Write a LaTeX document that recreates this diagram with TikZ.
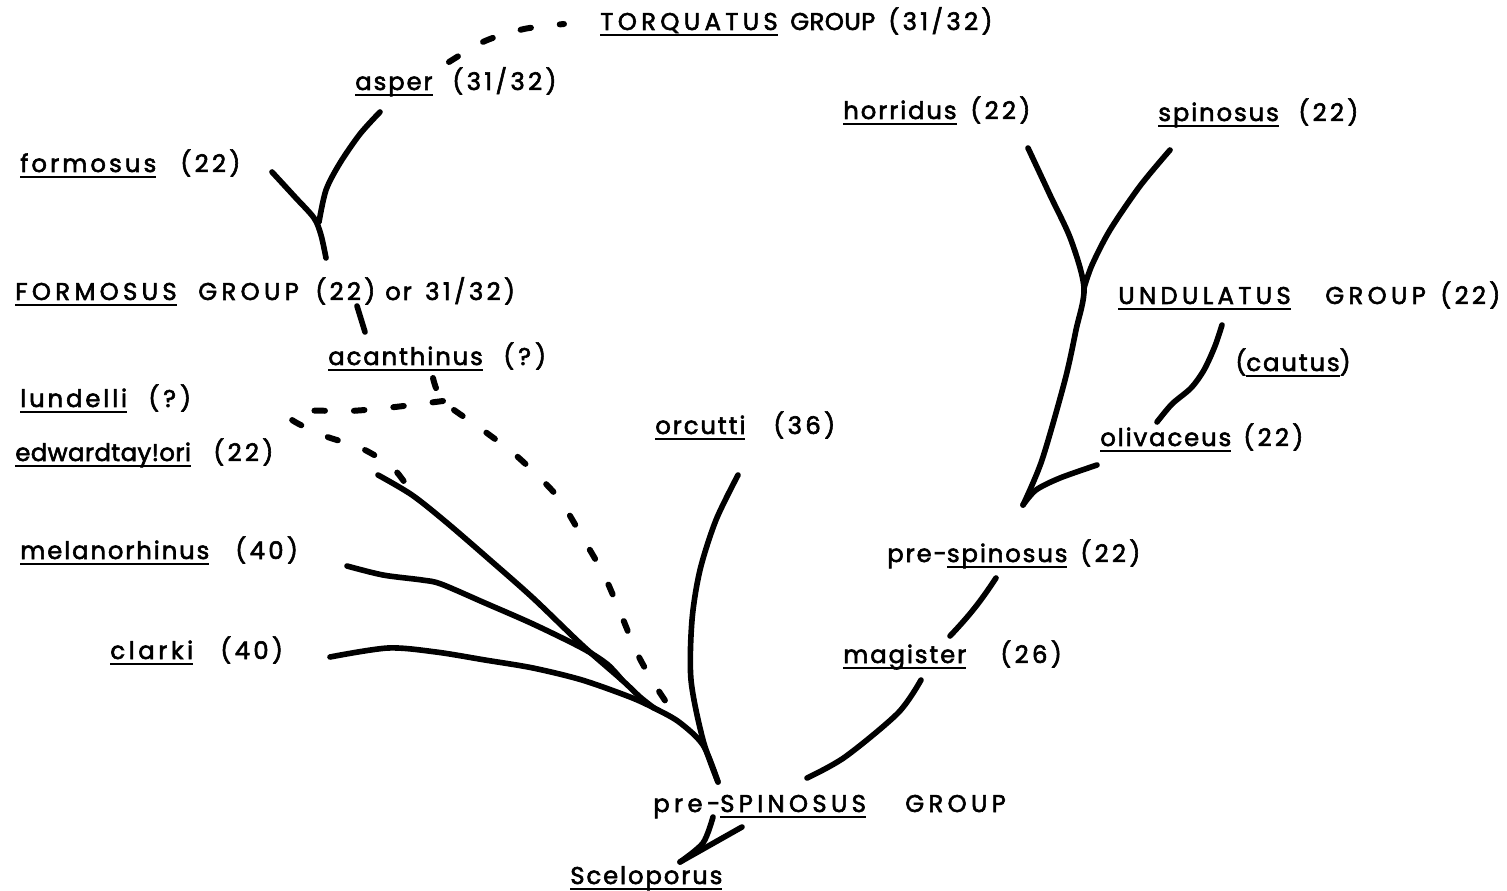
\documentclass[tikz,border=0pt]{standalone}
\usepackage{fontspec}
\setmainfont{Poppins}[LetterSpace=8,RawFeature={embolden=2.4}]
\newfontfamily\capf{Poppins}[LetterSpace=18,RawFeature={embolden=2.4}]
\newfontfamily\numf{Poppins}[LetterSpace=14,RawFeature={embolden=2.4}]
% one drawing unit = 0.2mm
\newlength\pxu \setlength\pxu{0.2mm}
\newsavebox\uwbox
% underlined taxon name
\newcommand\uw[1]{\sbox\uwbox{#1}\rlap{\usebox\uwbox}\rule[-6\pxu]{\wd\uwbox}{2.4\pxu}}
% a piece of a label set in a slot of fixed width
\newcommand\sg[2]{\makebox[#1\pxu][l]{#2}}
\begin{document}
\begin{tikzpicture}[x=0.02cm,y=-0.02cm,
  lbl/.style={anchor=base west,inner sep=0pt,font=\fontsize{13.8}{16}\selectfont},
  branch/.style={line width=3.2pt,line cap=round,line join=round},
  dashbranch/.style={line width=3.4pt,line cap=round,dash pattern=on 6pt off 16.5pt}]
\useasboundingbox (0,0) rectangle (1507,891);

% ---- labels ----
\node[lbl] (torq) at (600,30) {\sg{190}{\capf\uw{TORQUATUS}}\sg{98}{\capf\addfontfeature{LetterSpace=2}GROUP}{\numf(31/32)}};
\node[lbl] (asper) at (355,90) {\sg{97}{\uw{asper}}{\numf(31/32)}};
\node[lbl] (formosus) at (20,172) {\sg{160}{\addfontfeature{LetterSpace=13}\uw{formosus}}{\numf(22)}};
\node[lbl] (horridus) at (843,119) {\sg{127}{\uw{horridus}}{\numf(22)}};
\node[lbl] (spinosus) at (1158,121) {\sg{140}{\uw{spinosus}}{\numf(22)}};
\node[lbl] (formgrp) at (15,300) {\sg{183}{\capf\uw{FORMOSUS}}\sg{117}{\capf GROUP}\sg{70}{\numf(22)}\sg{40}{or}{\numf 31/32)}};
\node[lbl] (undgrp) at (1118,304) {\sg{207}{\capf\uw{UNDULATUS}}\sg{115}{\capf GROUP}{\numf(22)}};
\node[lbl] (acanth) at (328,365) {\sg{175}{\uw{acanthinus}}{\numf(\,?\,)}};
\node[lbl] (cautus) at (1235,371) {(\uw{cautus})};
\node[lbl] (lundelli) at (20,407) {\sg{128}{\addfontfeature{LetterSpace=12}\uw{lundelli}}{\numf(\,?\,)}};
\node[lbl] (orcutti) at (655,434) {\sg{118}{\uw{orcutti}}{\numf(36)}};
\node[lbl] (olivaceus) at (1100,446) {\sg{143}{\uw{olivaceus}}{\numf(22)}};
\node[lbl] (edward) at (15,461) {\sg{198}{\addfontfeature{LetterSpace=2}\uw{edwardtay!ori}}{\numf(22)}};
\node[lbl] (melan) at (20,559) {\sg{215}{\uw{melanorhinus}}{\numf(40)}};
\node[lbl] (prespin) at (887,562) {\sg{193}{pre-\uw{spinosus}}{\numf(22)}};
\node[lbl] (clarki) at (110,659) {\sg{110}{\addfontfeature{LetterSpace=15}\uw{clarki}}{\numf(40)}};
\node[lbl] (magister) at (843,663) {\sg{157}{\uw{magister}}{\numf(26)}};
\node[lbl] (prespgrp) at (653,812) {\sg{252}{\capf pre-\uw{SPINOSUS}}{\capf GROUP}};
\node[lbl] (scel) at (570,884) {\uw{Sceloporus}};

% ---- branch end points ----
\coordinate (asperTip) at (380,112);
\coordinate (asperJoin) at (319,222);
\coordinate (formTip) at (272,172);
\coordinate (formBase) at (326,258);
\coordinate (fgA) at (357,306);
\coordinate (fgB) at (365,332);
\coordinate (asperDash) at (449,62);
\coordinate (torqDash) at (564,24);
\coordinate (acTop) at (433,378);
\coordinate (acSplit) at (443,401);
\coordinate (dashEnd) at (670,708);
\coordinate (lunEnd) at (413,495);
\coordinate (edTip) at (378,475);
\coordinate (melTip) at (347,566);
\coordinate (clarkiTip) at (330,657);
\coordinate (orcTip) at (738,475);
\coordinate (edJoin) at (654,708);
\coordinate (melJoin) at (622,680);
\coordinate (spinBase) at (718,782);
\coordinate (magTip) at (921,680);
\coordinate (magBase) at (807,778);
\coordinate (psTip) at (996,578);
\coordinate (psBase) at (950,636);
\coordinate (horTip) at (1028,148);
\coordinate (spiTip) at (1170,150);
\coordinate (rtFork) at (1084,288);
\coordinate (rtBase) at (1023,505);
\coordinate (olTip) at (1097,465);
\coordinate (undTip) at (1222,325);
\coordinate (olTop) at (1157,422);
\coordinate (grpL) at (713,817);
\coordinate (grpR) at (742,827);
\coordinate (scelTop) at (680,862);

% ---- FORMOSUS group ----
\draw[branch] plot[smooth] coordinates {(formTip) (295,197) (314,218) (321,235) (formBase)};
\draw[branch] plot[smooth] coordinates {(asperTip) (360,134) (340,163) (326,190) (asperJoin)};
\draw[branch] (fgA) -- (fgB);
\draw[dashbranch] plot[smooth] coordinates {(asperDash) (485,41) (524,29) (torqDash)};

% ---- acanthinus and lundelli (uncertain) ----
\draw[dashbranch] plot[smooth] coordinates {(acTop) (acSplit) (480,428) (512,452) (537,475)
  (560,500) (584,540) (604,575) (620,612) (638,655) (655,685) (dashEnd)};
\draw[dashbranch] plot[smooth] coordinates {(acSplit) (395,407) (350,411) (305,411) (291,419)
  (325,436) (361,448) (393,468) (lunEnd)};

% ---- pre-SPINOSUS radiation ----
\draw[branch] plot[smooth] coordinates {(clarkiTip) (388,648) (436,652) (485,660) (533,668)
  (582,680) (630,697) (edJoin) (679,722) (703,745) (spinBase)};
\draw[branch] plot[smooth] coordinates {(edTip) (412,495) (446,522) (490,560) (533,598)
  (582,645) (melJoin) (640,697) (edJoin)};
\draw[branch] plot[smooth] coordinates {(melTip) (383,575) (422,580) (441,584) (485,603)
  (533,624) (582,648) (607,664) (melJoin)};
\draw[branch] plot[smooth] coordinates {(orcTip) (716,520) (700,570) (692,620) (691,680)
  (703,740) (spinBase)};

% ---- magister line ----
\draw[branch] plot[smooth] coordinates {(magBase) (845,757) (898,713) (magTip)};
\draw[branch] (psTip) to[bend left=5] (psBase);
\draw[branch] plot[smooth] coordinates {(horTip) (1050,195) (1071,240) (rtFork) (1076,330)
  (1065,380) (1042,460) (rtBase)};
\draw[branch] plot[smooth] coordinates {(spiTip) (1140,186) (1110,230) (1092,265) (rtFork)};
\draw[branch] plot[smooth] coordinates {(olTip) (1060,478) (1036,490) (rtBase)};
\draw[branch] plot[smooth] coordinates {(undTip) (1215,346) (1204,370) (1191,388) (1172,404) (olTop)};

% ---- root ----
\draw[branch] plot[smooth] coordinates {(grpL) (703,843) (scelTop)};
\draw[branch] (grpR) -- (scelTop);
\end{tikzpicture}
\end{document}
